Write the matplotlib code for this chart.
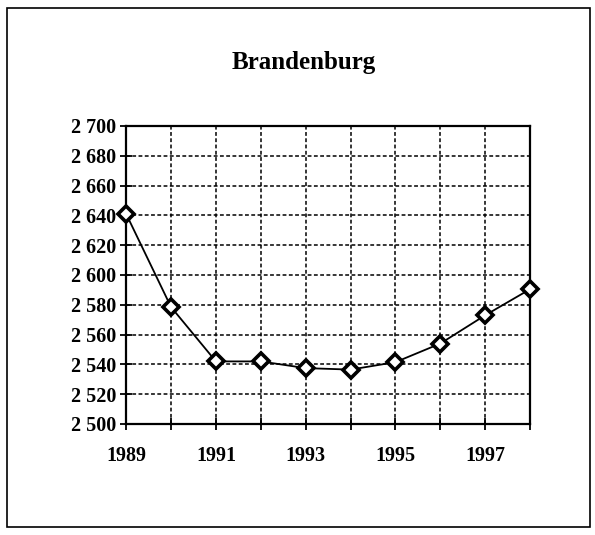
import numpy as np
import matplotlib as mp
mp.use('Agg')
import matplotlib.pyplot as plt
from matplotlib.patches import Rectangle
from matplotlib.ticker import FuncFormatter

plt.rcParams['font.family'] = 'Liberation Serif'

# Brandenburg population (thousands)
years = [1989, 1990, 1991, 1992, 1993, 1994, 1995, 1996, 1997, 1998]
pop = [2641, 2578.5, 2542, 2542, 2537.5, 2536.5, 2541.5, 2554, 2573, 2590.5]
xtick_years = [1989, 1991, 1993, 1995, 1997]
yticks = np.arange(2500, 2701, 20)

fig = plt.figure(figsize=(5.95, 5.35), dpi=100)
ax1 = fig.add_axes([0.212, 0.2075, 0.679, 0.557])

ax1.plot(years, pop, color='k', lw=1.3, marker='D', ms=8.5,
         mfc='white', mec='k', mew=2.6, clip_on=False, zorder=5)

ax1.set_xlim(1989, 1998)
ax1.set_ylim(2500, 2700)
ax1.set_yticks(yticks)
ax1.set_xticks(years)
ax1.set_xticklabels([str(y) if y in xtick_years else '' for y in years])
ax1.yaxis.set_major_formatter(FuncFormatter(lambda v, p: '{:,}'.format(int(v)).replace(',', ' ')))

ax1.grid(True, color='k', linestyle=(0, (2.5, 1.6)), lw=1.1)
for s in ax1.spines.values():
    s.set_linewidth(1.6)
ax1.tick_params(axis='both', direction='inout', length=8, width=1.3,
                labelsize=14.5, pad=3)
for lab in ax1.get_xticklabels() + ax1.get_yticklabels():
    lab.set_fontweight('bold')
ax1.tick_params(axis='x', pad=12)

fig.text(0.51, 0.884, 'Brandenburg', ha='center', va='center',
         fontsize=18, fontweight='bold')

# outer frame
fig.patches.append(Rectangle((0.012, 0.015), 0.98, 0.97, transform=fig.transFigure,
                             fill=False, ec='k', lw=1.2))

plt.savefig('out.png', dpi=100)
